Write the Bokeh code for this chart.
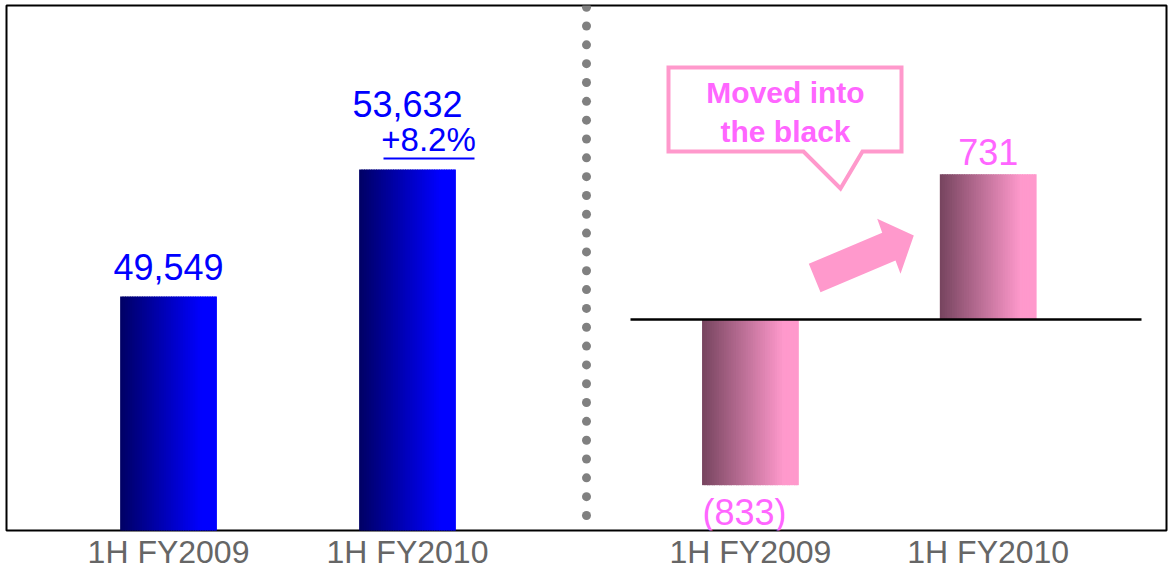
import numpy as np
from bokeh.plotting import figure
from bokeh.models import Range1d, FixedTicker
from bokeh.core.properties import value
from bokeh.embed import file_html
from bokeh.resources import INLINE

# ---------------- data ----------------
categories = ["1H FY2009", "1H FY2010"]
net_sales = [49549, 53632]          # left panel
net_income = [-833, 731]            # right panel
growth_label = "+8.2%"
callout_lines = ["Moved into", "the black"]

# ---------------- layout ----------------
W, H = 1173, 575
BL, BR, BT, BB = 6, 7, 5, 45
FW, FH = W - BL - BR, H - BT - BB

x_left = [0.0, 1.0]
x_right = [2.435, 3.43]
bar_w = 0.405

xr = Range1d(-0.678, 4.176)
yl = Range1d(42026, 58905)
yr = Range1d(-1061, 1579)


def px_x(px):
    return xr.start + (px - BL) / FW * (xr.end - xr.start)


def px_yr(py):
    return yr.end - (py - BT) / FH * (yr.end - yr.start)


def px_yl(py):
    return yl.end - (py - BT) / FH * (yl.end - yl.start)


p = figure(width=W, height=H, x_range=xr, y_range=yl,
           output_backend="svg", toolbar_location=None,
           y_axis_location=None,
           min_border_left=BL, min_border_right=BR,
           min_border_top=BT, min_border_bottom=BB,
           background_fill_color="white", border_fill_color="white",
           outline_line_color="black", outline_line_width=2)
p.extra_y_ranges = {"r": yr}
p.xgrid.visible = False
p.ygrid.visible = False

ticks = x_left + x_right
p.xaxis.ticker = FixedTicker(ticks=ticks)
p.xaxis.major_label_overrides = {t: lab for t, lab in zip(ticks, categories + categories)}
p.xaxis.axis_line_color = None
p.xaxis.major_tick_line_color = None
p.xaxis.minor_tick_line_color = None
p.xaxis.major_tick_out = 0
p.xaxis.major_tick_in = 0
p.xaxis.minor_tick_out = 0
p.xaxis.major_label_text_font = "Liberation Sans"
p.xaxis.major_label_text_font_size = "32px"
p.xaxis.major_label_text_color = "#666666"
p.xaxis.major_label_standoff = 3


def hex_to_rgb(h):
    h = h.lstrip("#")
    return np.array([int(h[i:i + 2], 16) for i in (0, 2, 4)], dtype=float)


def gradient_bar(x, top, bottom, c0, c1, range_name, n=40):
    edges = x - bar_w / 2 + np.arange(n + 1) * bar_w / n
    a, b = hex_to_rgb(c0), hex_to_rgb(c1)
    t = np.clip(np.linspace(0, 1, n) / 0.85, 0, 1)
    cols = ["#%02x%02x%02x" % tuple((a + (b - a) * ti).round().astype(int)) for ti in t]
    rights = edges[1:].copy()
    rights[:-1] += (bar_w / n) * 0.4
    kw = {} if range_name is None else {"y_range_name": range_name}
    p.quad(left=edges[:-1], right=rights, top=[top] * n, bottom=[bottom] * n,
           fill_color=cols, line_color=None, **kw)


for x, v in zip(x_left, net_sales):
    gradient_bar(x, v, 0, "#000066", "#0000ff", None)
for x, v in zip(x_right, net_income):
    gradient_bar(x, max(v, 0), min(v, 0), "#784560", "#ff99cc", "r")

# zero line right panel
p.segment(x0=[px_x(630)], x1=[px_x(1141)], y0=[0], y1=[0], y_range_name="r",
          line_color="black", line_width=2.5)

# dotted separator
dot_y = [px_yr(v) for v in np.linspace(6.7, 515, 28)]
p.scatter(x=[px_x(586)] * len(dot_y), y=dot_y, y_range_name="r", size=9,
          fill_color="#808080", line_color=None)

font = value("Liberation Sans")

# left value labels
p.text(x=x_left, y=net_sales, text=[f"{v:,}" for v in net_sales],
       y_offset=[-30, -66], text_align="center", text_baseline="alphabetic",
       text_color="#0000ff", text_font=font, text_font_size="36px")
p.text(x=[x_left[1]], y=[net_sales[1]], text=[growth_label], x_offset=21, y_offset=-30,
       text_align="center", text_baseline="alphabetic",
       text_color="#0000ff", text_font=font, text_font_size="33px")
p.segment(x0=[px_x(383)], x1=[px_x(474)], y0=[px_yl(158)], y1=[px_yl(158)],
          line_color="#0000ff", line_width=2)

# right value labels
p.text(x=x_right, y=net_income,
       text=[f"({abs(v):,})" if v < 0 else f"{v:,}" for v in net_income],
       x_offset=[-6, 0], y_offset=[27, -22], y_range_name="r",
       text_align="center", text_baseline="alphabetic",
       text_color="#ff66ff", text_font=font, text_font_size="36px")

# callout box
cx = [668, 901, 901, 862, 840, 803, 668]
cy = [67, 67, 151, 151, 188, 151, 151]
p.patch(x=[px_x(v) for v in cx], y=[px_yr(v) for v in cy], y_range_name="r",
        fill_color="white", line_color="#ff99cc", line_width=4, line_join="miter")
p.text(x=[px_x(785)] * 2, y=[px_yr(92), px_yr(131)], text=callout_lines,
       y_range_name="r", text_align="center", text_baseline="alphabetic",
       text_color="#ff66ff", text_font=font, text_font_size="30px",
       text_font_style="bold")

# arrow
ax = [808.3, 881.7, 876.7, 913.3, 900, 895, 820]
ay = [263.3, 232.3, 218.3, 235, 273.3, 260, 291.7]
p.patch(x=[px_x(v) for v in ax], y=[px_yr(v) for v in ay], y_range_name="r",
        fill_color="#ff99cc", line_color=None)

open("out.html", "w").write(file_html(p, INLINE))
